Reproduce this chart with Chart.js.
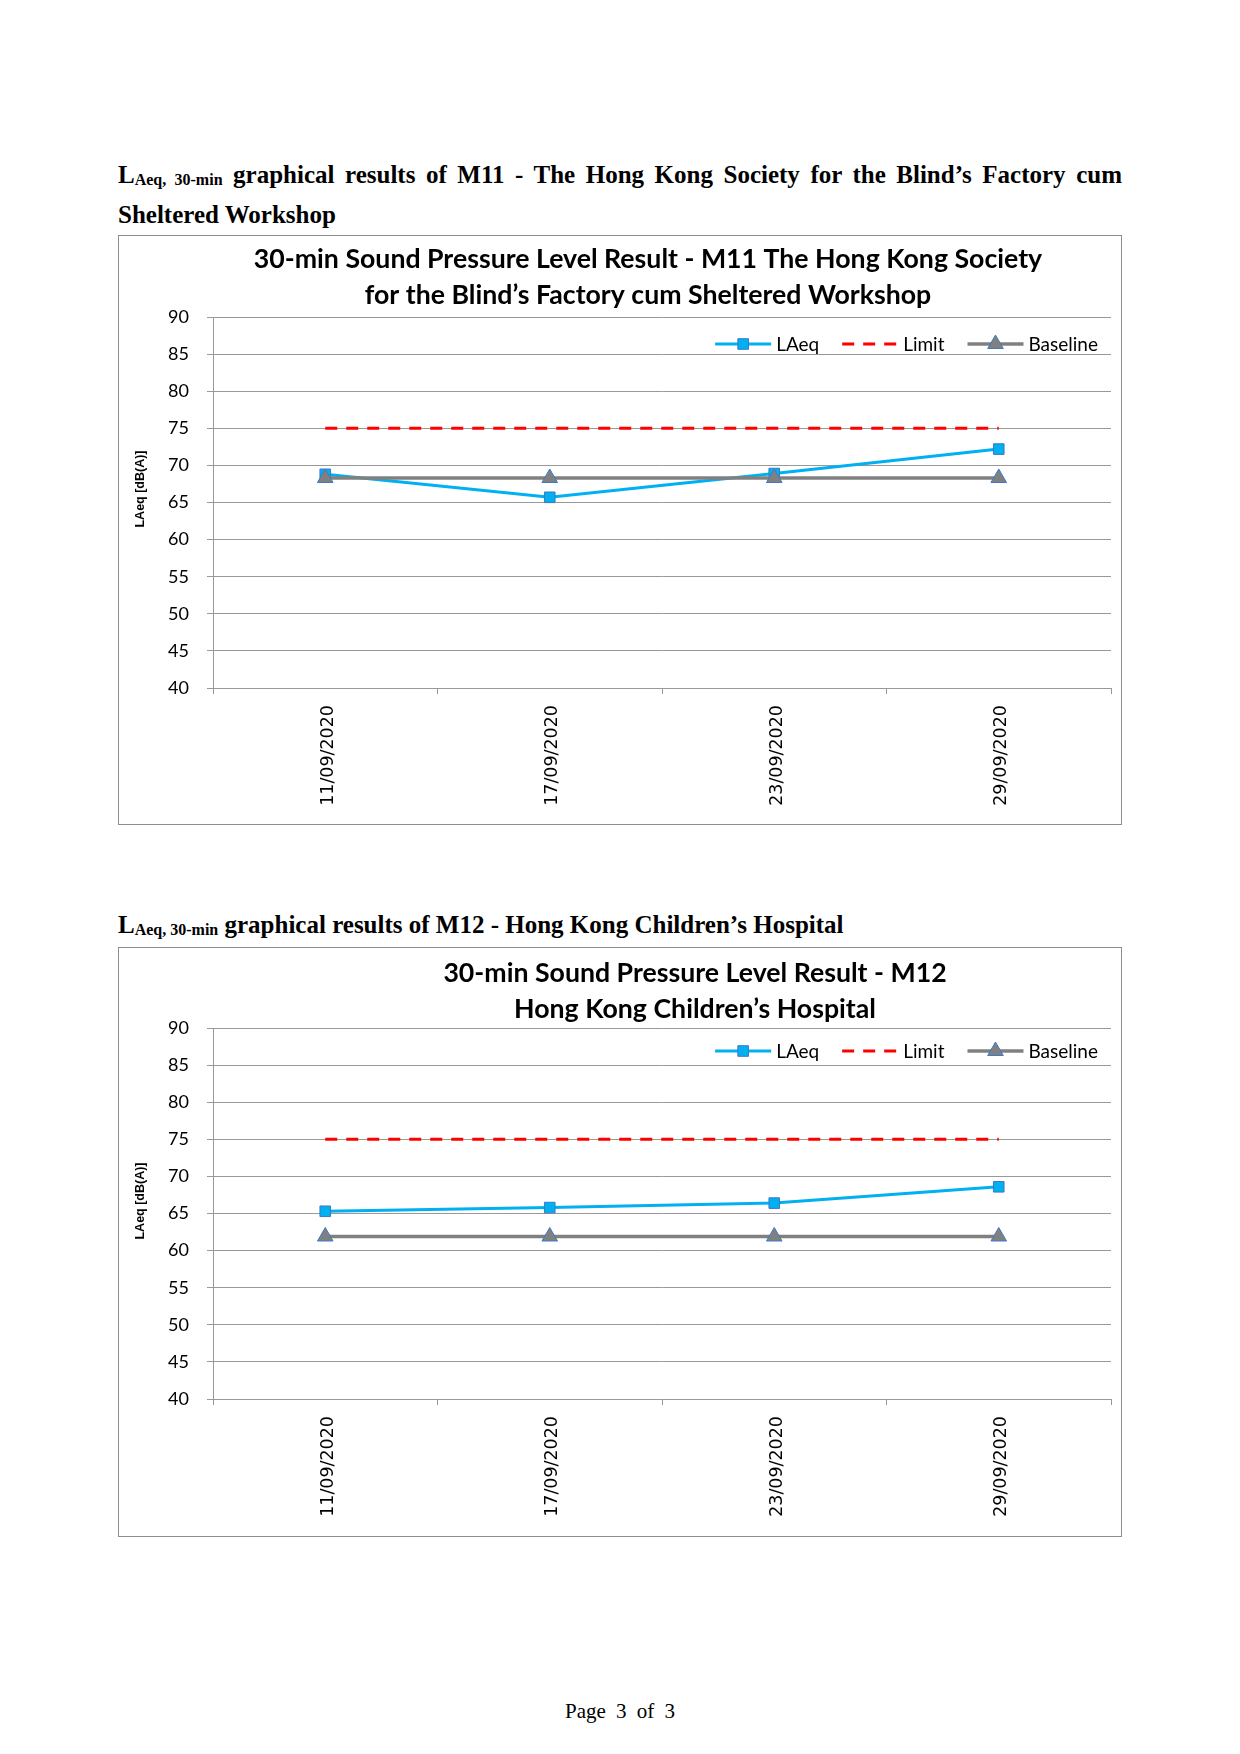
<!DOCTYPE html>
<html>
<head>
<meta charset="utf-8">
<title>LAeq 30-min graphical results</title>
<script src="https://cdn.jsdelivr.net/npm/chart.js@4.4.0/dist/chart.umd.min.js"></script>
<style>
    body {
        margin: 0;
        width: 1240px;
        height: 1754px;
        position: relative;
        background: #fff;
        font-family: "Liberation Serif", "Times New Roman", serif;
        color: #000;
    }
    .heading {
        position: absolute;
        left: 118px;
        width: 1004px;
        font-weight: bold;
        font-size: 25px;
        line-height: 37px;
        text-align: justify;
    }
    .heading .sub {
        font-size: 16px;
        position: relative;
        top: 2px;
    }
    .box {
        position: absolute;
        left: 118px;
        width: 1004px;
        height: 590px;
        border: 1px solid #8e8e8e;
        box-sizing: border-box;
        background: #fff;
    }
    .box canvas {
        display: block;
    }
    .footer {
        position: absolute;
        top: 1699px;
        left: 0;
        width: 1240px;
        text-align: center;
        font-size: 21px;
        word-spacing: 5px;
    }
</style>
</head>
<body>

<div class="heading" style="top:156px">L<span class="sub">Aeq, 30-min</span> graphical results of M11 - The Hong Kong Society for the Blind’s Factory cum Sheltered Workshop</div>
<div class="box" style="top:235px"><canvas id="chartM11" width="1002" height="588"></canvas></div>

<div class="heading" style="top:906px">L<span class="sub">Aeq, 30-min</span> graphical results of M12 - Hong Kong Children’s Hospital</div>
<div class="box" style="top:947px"><canvas id="chartM12" width="1002" height="588"></canvas></div>

<div class="footer">Page 3 of 3</div>

<script>
// Data
const dates = ['11/09/2020', '17/09/2020', '23/09/2020', '29/09/2020'];

const m11Laeq = [68.8, 65.7, 68.9, 72.2];
const m11Limit = [75, 75, 75, 75];
const m11Baseline = [68.3, 68.3, 68.3, 68.3];

const m12Laeq = [65.3, 65.8, 66.4, 68.6];
const m12Limit = [75, 75, 75, 75];
const m12Baseline = [61.9, 61.9, 61.9, 61.9];

const m11Title = ['30-min Sound Pressure Level Result - M11 The Hong Kong Society', 'for the Blind’s Factory cum Sheltered Workshop'];
const m12Title = ['30-min Sound Pressure Level Result - M12', 'Hong Kong Children’s Hospital'];

const yAxisTitle = 'LAeq [dB(A)]';
const yMin = 40;
const yMax = 90;
const yStep = 5;

const GRID = '#999999';
const MARKER_EDGE = '#3f78c4';

// draws a marker the same way Chart.js does for rect / triangle
function drawMarker(ctx, style, x, y, r, fill, edge) {
    ctx.save();
    ctx.fillStyle = fill;
    ctx.strokeStyle = edge;
    ctx.lineWidth = 1;
    ctx.setLineDash([]);
    ctx.beginPath();
    if (style === 'rect') {
        const s = r * Math.SQRT1_2;
        ctx.rect(x - s, y - s, 2 * s, 2 * s);
    } else if (style === 'triangle') {
        ctx.moveTo(x, y - r);
        ctx.lineTo(x + 0.866 * r, y + 0.5 * r);
        ctx.lineTo(x - 0.866 * r, y + 0.5 * r);
        ctx.closePath();
    }
    ctx.fill();
    ctx.stroke();
    ctx.restore();
}

// Title, rotated axis title and the in-plot legend, placed like the Excel chart
const decorPlugin = {
    id: 'decor',
    afterDraw(chart, args, opts) {
        const ctx = chart.ctx;
        const area = chart.chartArea;

        ctx.save();
        ctx.fillStyle = '#000';
        ctx.textAlign = 'center';
        ctx.textBaseline = 'middle';
        ctx.font = 'bold 26.7px Lato';
        opts.title.forEach((line, i) => {
            ctx.fillText(line, opts.titleX, opts.titleY[i]);
        });

        // y axis title
        ctx.save();
        ctx.translate(opts.yTitleX, opts.yTitleY);
        ctx.rotate(-Math.PI / 2);
        ctx.font = 'bold 12.5px "Liberation Sans"';
        ctx.fillText(yAxisTitle, 0, 0);
        ctx.restore();

        // legend
        ctx.font = '19px Lato';
        ctx.textAlign = 'left';
        const symW = 56;
        const gap = 5;
        const spacing = 23;
        const items = chart.data.datasets;
        let total = 0;
        items.forEach((ds, i) => {
            total += symW + gap + ctx.measureText(ds.label).width;
            if (i < items.length - 1) total += spacing;
        });
        let x = area.right - 13 - total;
        const y = area.top + opts.legendDy;
        items.forEach(ds => {
            ctx.save();
            ctx.strokeStyle = ds.borderColor;
            ctx.lineWidth = ds.borderWidth;
            ctx.setLineDash(ds.borderDash || []);
            ctx.beginPath();
            ctx.moveTo(x, y);
            ctx.lineTo(x + symW, y);
            ctx.stroke();
            ctx.restore();
            if (ds.pointRadius > 0) {
                drawMarker(ctx, ds.pointStyle, x + symW / 2, y, ds.pointRadius, ds.pointBackgroundColor, ds.pointBorderColor);
            }
            ctx.fillStyle = '#000';
            ctx.fillText(ds.label, x + symW + gap, y + 1);
            x += symW + gap + ctx.measureText(ds.label).width + spacing;
        });
        ctx.restore();
    }
};

function buildChart(canvasId, laeq, limit, baseline, title, layout) {
    const ctx = document.getElementById(canvasId).getContext('2d');
    return new Chart(ctx, {
        type: 'line',
        data: {
            labels: dates,
            datasets: [{
                label: 'LAeq',
                data: laeq,
                borderColor: '#00b0f0',
                borderWidth: 3,
                pointStyle: 'rect',
                pointRadius: 7.5,
                pointBackgroundColor: '#00b0f0',
                pointBorderColor: MARKER_EDGE,
                pointBorderWidth: 1,
                tension: 0,
                order: 1
            }, {
                label: 'Limit',
                data: limit,
                borderColor: '#ff0000',
                borderWidth: 3,
                borderDash: [12, 9],
                pointRadius: 0,
                tension: 0,
                order: 2
            }, {
                label: 'Baseline',
                data: baseline,
                borderColor: '#808080',
                borderWidth: 3.5,
                pointStyle: 'triangle',
                pointRadius: 9,
                pointBackgroundColor: '#808080',
                pointBorderColor: MARKER_EDGE,
                pointBorderWidth: 1,
                tension: 0,
                order: 0
            }]
        },
        options: {
            responsive: false,
            animation: false,
            layout: {
                padding: { top: layout.top, right: 8, bottom: 0, left: 0 }
            },
            plugins: {
                legend: { display: false },
                title: { display: false },
                tooltip: { enabled: false },
                decor: {
                    title: title,
                    titleX: layout.titleX,
                    titleY: layout.titleY,
                    yTitleX: 22,
                    yTitleY: 253,
                    legendDy: layout.legendDy
                }
            },
            scales: {
                x: {
                    type: 'category',
                    offset: true,
                    afterFit: scale => { scale.height = layout.xHeight; },
                    grid: {
                        display: true,
                        offset: true,
                        drawOnChartArea: false,
                        drawTicks: true,
                        tickLength: 6,
                        color: GRID
                    },
                    border: { display: true, color: GRID },
                    ticks: {
                        autoSkip: false,
                        maxRotation: 90,
                        minRotation: 90,
                        padding: 11,
                        labelOffset: 3,
                        color: '#000',
                        font: { family: 'DejaVu Sans', size: 17.5 }
                    }
                },
                y: {
                    min: yMin,
                    max: yMax,
                    afterFit: scale => { scale.width = 94; },
                    grid: {
                        color: GRID,
                        drawTicks: true,
                        tickLength: 6
                    },
                    border: { display: true, color: GRID },
                    ticks: {
                        stepSize: yStep,
                        padding: 18,
                        color: '#000',
                        font: { family: 'Lato', size: 18 }
                    }
                }
            }
        },
        plugins: [decorPlugin]
    });
}

document.addEventListener('DOMContentLoaded', () => {
    buildChart('chartM11', m11Laeq, m11Limit, m11Baseline, m11Title,
        { top: 81, xHeight: 136, titleX: 529, titleY: [23, 59], legendDy: 27 });
    buildChart('chartM12', m12Laeq, m12Limit, m12Baseline, m12Title,
        { top: 80, xHeight: 137, titleX: 576, titleY: [25, 61], legendDy: 23 });
});
</script>
</body>
</html>
